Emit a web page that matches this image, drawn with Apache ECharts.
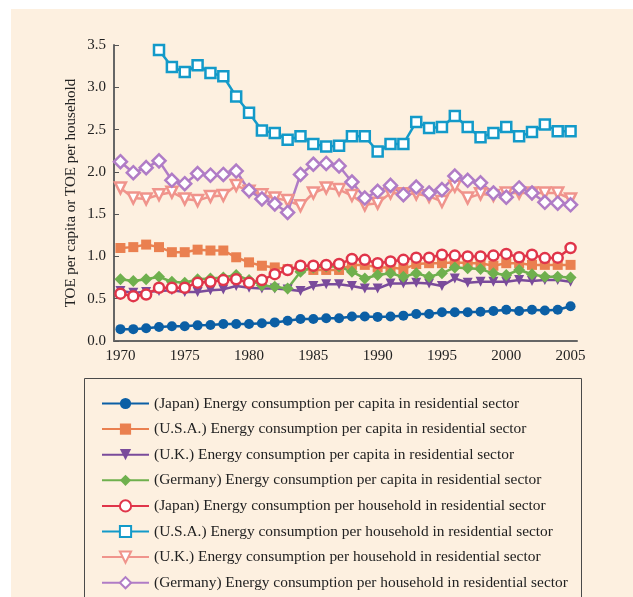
<!DOCTYPE html>
<html>
<head>
<meta charset="utf-8">
<script src="https://cdn.jsdelivr.net/npm/echarts@6/dist/echarts.min.js"></script>
<style>
  html, body { margin: 0; padding: 0; background: #fff; }
  #chart { width: 633px; height: 597px; }
</style>
</head>
<body>
<div id="chart"></div>
<script>
// 年份（类目轴）
const years = [1970, 1971, 1972, 1973, 1974, 1975, 1976, 1977, 1978, 1979,
  1980, 1981, 1982, 1983, 1984, 1985, 1986, 1987, 1988, 1989,
  1990, 1991, 1992, 1993, 1994, 1995, 1996, 1997, 1998, 1999,
  2000, 2001, 2002, 2003, 2004, 2005];

// 人均
const japanCapita = [0.14, 0.14, 0.15, 0.165, 0.175, 0.175, 0.185, 0.19, 0.2, 0.2,
  0.2, 0.21, 0.22, 0.24, 0.26, 0.26, 0.27, 0.27, 0.29, 0.29,
  0.285, 0.29, 0.30, 0.32, 0.32, 0.34, 0.34, 0.34, 0.345, 0.355,
  0.37, 0.355, 0.37, 0.36, 0.37, 0.41];
const usaCapita = [1.10, 1.11, 1.14, 1.11, 1.05, 1.05, 1.08, 1.07, 1.07, 0.99,
  0.93, 0.89, 0.87, 0.85, 0.86, 0.84, 0.84, 0.84, 0.90, 0.90,
  0.87, 0.87, 0.85, 0.91, 0.92, 0.92, 0.93, 0.92, 0.92, 0.89,
  0.92, 0.92, 0.90, 0.90, 0.90, 0.90];
const ukCapita = [0.59, 0.57, 0.58, 0.59, 0.60, 0.58, 0.58, 0.60, 0.61, 0.65,
  0.63, 0.62, 0.62, 0.61, 0.59, 0.65, 0.67, 0.67, 0.65, 0.62,
  0.62, 0.68, 0.68, 0.69, 0.68, 0.65, 0.74, 0.69, 0.70, 0.70,
  0.70, 0.72, 0.71, 0.72, 0.72, 0.70];
const germanyCapita = [0.73, 0.71, 0.73, 0.76, 0.70, 0.69, 0.73, 0.74, 0.75, 0.78,
  0.72, 0.66, 0.64, 0.62, 0.82, 0.87, 0.88, 0.88, 0.82, 0.74,
  0.78, 0.80, 0.76, 0.80, 0.76, 0.80, 0.87, 0.86, 0.85, 0.80,
  0.78, 0.84, 0.79, 0.76, 0.76, 0.75];

// 每户
const japanHousehold = [0.56, 0.53, 0.55, 0.63, 0.63, 0.63, 0.69, 0.70, 0.72, 0.73,
  0.69, 0.72, 0.79, 0.84, 0.89, 0.89, 0.90, 0.91, 0.97, 0.96,
  0.92, 0.94, 0.96, 0.985, 0.985, 1.02, 1.01, 1.00, 1.00, 1.01,
  1.03, 0.99, 1.02, 0.98, 0.985, 1.10];
const usaHousehold = [null, null, null, 3.44, 3.24, 3.18, 3.26, 3.17, 3.13, 2.89,
  2.70, 2.49, 2.46, 2.38, 2.42, 2.33, 2.30, 2.31, 2.42, 2.42,
  2.24, 2.33, 2.33, 2.59, 2.52, 2.53, 2.66, 2.53, 2.41, 2.46,
  2.53, 2.42, 2.47, 2.56, 2.48, 2.48];
const ukHousehold = [1.81, 1.69, 1.68, 1.73, 1.76, 1.68, 1.66, 1.71, 1.72, 1.84,
  1.77, 1.73, 1.69, 1.66, 1.60, 1.75, 1.81, 1.79, 1.72, 1.61,
  1.63, 1.75, 1.74, 1.74, 1.71, 1.65, 1.83, 1.69, 1.74, 1.72,
  1.75, 1.75, 1.75, 1.75, 1.75, 1.68];
const germanyHousehold = [2.12, 1.99, 2.05, 2.13, 1.90, 1.86, 1.98, 1.96, 1.97, 2.01,
  1.78, 1.68, 1.62, 1.52, 1.97, 2.09, 2.10, 2.07, 1.88, 1.69,
  1.77, 1.84, 1.73, 1.82, 1.75, 1.79, 1.95, 1.90, 1.87, 1.75,
  1.70, 1.81, 1.75, 1.64, 1.63, 1.61];

const seriesNames = [
  '(Japan) Energy consumption per capita in residential sector',
  '(U.S.A.) Energy consumption per capita in residential sector',
  '(U.K.) Energy consumption per capita in residential sector',
  '(Germany) Energy consumption per capita in residential sector',
  '(Japan) Energy consumption per household in residential sector',
  '(U.S.A.) Energy consumption per household in residential sector',
  '(U.K.) Energy consumption per household in residential sector',
  '(Germany) Energy consumption per household in residential sector'
];

const FONT = '"Liberation Serif", "DejaVu Serif", serif';

// 实心标记
function solidLine(name, data, color, symbol, size, rotate) {
  return {
    name: name,
    type: 'line',
    data: data,
    symbol: symbol,
    symbolSize: size,
    symbolRotate: rotate || 0,
    showAllSymbol: true,
    lineStyle: { color: color, width: 2.5 },
    itemStyle: { color: color, borderWidth: 0 },
    emphasis: { disabled: true }
  };
}
// 空心标记
function hollowLine(name, data, color, symbol, size, rotate) {
  return {
    name: name,
    type: 'line',
    data: data,
    symbol: symbol,
    symbolSize: size,
    symbolRotate: rotate || 0,
    showAllSymbol: true,
    connectNulls: false,
    lineStyle: { color: color, width: 2.5 },
    itemStyle: { color: '#fff', borderColor: color, borderWidth: 2.5 },
    emphasis: { disabled: true }
  };
}

const chart = echarts.init(document.getElementById('chart'), null, { renderer: 'canvas' });

const option = {
  animation: false,
  backgroundColor: '#fff',
  textStyle: { fontFamily: FONT },
  graphic: [
    {
      type: 'rect', z: -10, silent: true,
      shape: { x: 11, y: 9, width: 630, height: 600 },
      style: { fill: '#fdf0e0' }
    },
    {
      type: 'rect', z: -5, silent: true,
      shape: { x: 84.5, y: 378.5, width: 497, height: 240 },
      style: { fill: 'transparent', stroke: '#4a4a4a', lineWidth: 1 }
    }
  ],
  grid: { left: 114, right: 56, top: 45, bottom: 256, containLabel: false },
  legend: {
    orient: 'vertical',
    left: 101,
    top: 396,
    height: 201,
    padding: 0,
    itemWidth: 47,
    itemHeight: 14,
    itemGap: 10.6,
    itemStyle: { borderWidth: 2 },
    textStyle: { fontFamily: FONT, fontSize: 15.4, color: '#222' },
    data: seriesNames
  },
  xAxis: {
    type: 'category',
    data: years,
    boundaryGap: true,
    axisLine: { lineStyle: { color: '#666', width: 2 } },
    axisTick: { inside: true, length: 5, interval: 0, lineStyle: { color: '#555' } },
    axisLabel: { interval: 4, fontFamily: FONT, fontSize: 15, color: '#222', margin: 8 },
    splitLine: { show: false }
  },
  yAxis: {
    type: 'value',
    min: 0,
    max: 3.5,
    interval: 0.5,
    name: 'TOE per capita or TOE per household',
    nameLocation: 'middle',
    nameGap: 35,
    nameMoveOverlap: false,
    nameTextStyle: { fontFamily: FONT, fontSize: 15, color: '#222' },
    axisLine: { show: true, lineStyle: { color: '#666', width: 2 } },
    axisTick: { show: true, inside: true, length: 5, lineStyle: { color: '#555' } },
    axisLabel: {
      fontFamily: FONT, fontSize: 15, color: '#222', margin: 8,
      formatter: function (v) { return v.toFixed(1); }
    },
    splitLine: { show: false }
  },
  series: [
    solidLine(seriesNames[0], japanCapita, '#0b5fa5', 'circle', 10),
    solidLine(seriesNames[1], usaCapita, '#ea8050', 'rect', 10),
    solidLine(seriesNames[2], ukCapita, '#7a4b9b', 'triangle', 10, 180),
    solidLine(seriesNames[3], germanyCapita, '#6fb04e', 'diamond', 12),
    hollowLine(seriesNames[4], japanHousehold, '#e0354a', 'circle', 10),
    hollowLine(seriesNames[5], usaHousehold, '#139ac9', 'rect', 10),
    hollowLine(seriesNames[6], ukHousehold, '#f0948c', 'triangle', 11, 180),
    hollowLine(seriesNames[7], germanyHousehold, '#b07cc6', 'diamond', 13)
  ]
};

chart.setOption(option);
</script>
</body>
</html>
